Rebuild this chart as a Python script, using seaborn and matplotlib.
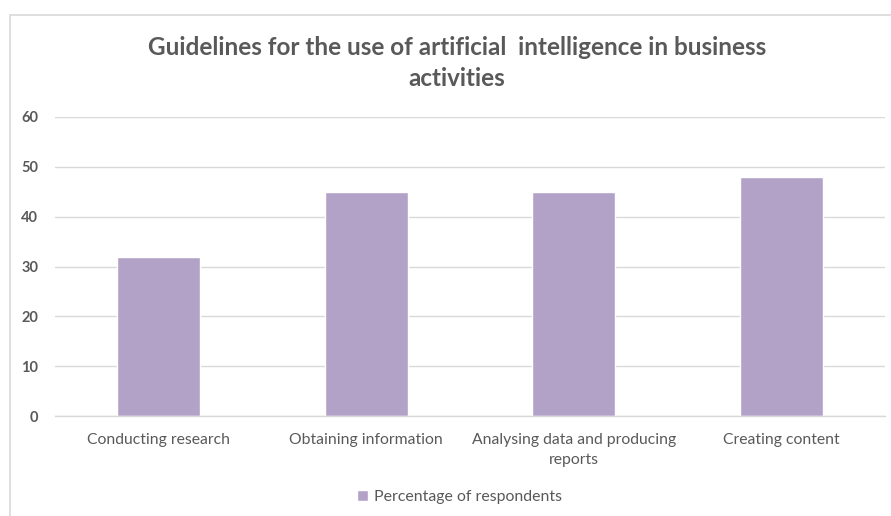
import matplotlib
matplotlib.use("Agg")
import matplotlib.pyplot as plt
import seaborn as sns
import pandas as pd
from matplotlib.patches import Rectangle

# datos
categories = ['Conducting research', 'Obtaining information',
              'Analysing data and producing\nreports', 'Creating content']
values = [32, 45, 45, 48]
series_name = 'Percentage of respondents'
title = 'Guidelines for the use of artificial  intelligence in business\nactivities'

df = pd.DataFrame({'Category': categories, 'Value': values, 'Series': series_name})

sns.set_theme(style="white")
plt.rcParams['font.family'] = ['Lato', 'DejaVu Sans']

bar_color = '#B3A2C7'
text_color = '#595959'

fig = plt.figure(figsize=(8.91, 5.16), dpi=100)
ax = fig.add_axes([55 / 891, 1 - 416 / 516, 830 / 891, (416 - 117) / 516])

sns.barplot(data=df, x='Category', y='Value', hue='Series', palette=[bar_color],
            width=0.4, ax=ax, saturation=1, legend=True)

ax.set_ylim(0, 60)
ax.set_yticks(range(0, 61, 10))
ax.yaxis.grid(True, color='#D9D9D9', linewidth=1)
ax.set_axisbelow(True)
for s in ['top', 'right', 'left']:
    ax.spines[s].set_visible(False)
ax.spines['bottom'].set_color('#D9D9D9')
ax.spines['bottom'].set_linewidth(1)
ax.set_xlabel('')
ax.set_ylabel('')
ax.tick_params(axis='both', length=0)
ax.tick_params(axis='y', pad=12, labelsize=10.5, labelcolor=text_color)
ax.tick_params(axis='x', pad=12, labelsize=11.3, labelcolor=text_color)
for lab in ax.get_yticklabels():
    lab.set_fontweight('bold')
for lab in ax.get_xticklabels():
    lab.set_linespacing(1.55)

leg = ax.legend(loc='center', bbox_to_anchor=(0.487, -0.27), frameon=False,
                fontsize=11.4, handlelength=0.7, handleheight=0.7, handletextpad=0.4)
for t in leg.get_texts():
    t.set_color(text_color)

fig.text(0.513, 1 - 63 / 516, title, ha='center', va='center', fontsize=17.5,
         fontweight='bold', color=text_color, linespacing=1.4)

# borde del área del gráfico (recortado)
fig.patches.append(Rectangle((10 / 891, -0.1), 1.2, 1 - 15 / 516 + 0.1,
                             transform=fig.transFigure, fill=False,
                             edgecolor='#D9D9D9', linewidth=1.2))

fig.savefig('out.png', dpi=100)
